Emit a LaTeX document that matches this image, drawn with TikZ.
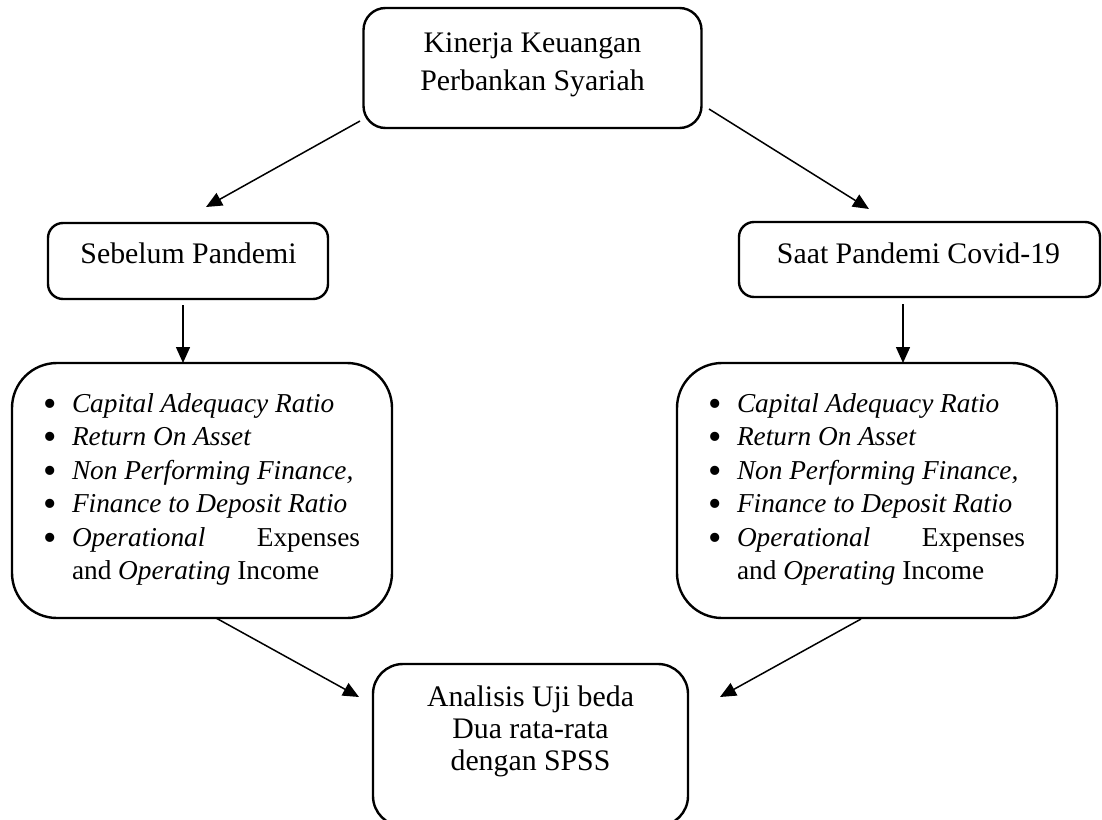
\documentclass[tikz,border=0pt]{standalone}
\usepackage{fontspec}
\setmainfont{Liberation Serif}
\usetikzlibrary{arrows.meta}
\newcommand\bigbul{\makebox[26pt][l]{\hspace*{-3pt}\smash{\raisebox{-4pt}{\scalebox{1.4}{\textbullet}}}}}
\newcommand\ratiolist{\parbox{314pt}{%
\bigbul\textit{Capital Adequacy Ratio}\\
\bigbul\textit{Return On Asset}\\
\bigbul\textit{Non Performing Finance,}\\
\bigbul\textit{Finance to Deposit Ratio}\\
\bigbul\makebox[288pt][s]{\textit{Operational}\hfill Expenses}\\
\hspace*{26pt}and \textit{Operating} Income}}
\tikzset{
  box/.style={draw, line width=2.4pt, inner sep=0pt},
  txt/.style={inner sep=0pt, align=center, font=\fontsize{29.8}{38}\selectfont},
  listtxt/.style={inner sep=0pt, anchor=north, font=\fontsize{27.3}{33.4}\selectfont},
  arr/.style={-{Triangle[length=16pt,width=14pt]}, line width=1.5pt},
}
\begin{document}
\begin{tikzpicture}[x=1pt,y=-1pt]
\useasboundingbox (0,0) rectangle (1102,819);
% boxes
\node[box, rounded corners=22pt, minimum width=338pt, minimum height=120pt] (top) at (532.5,68) {};
\node[txt, anchor=north] (topText) at (532.5,32.6) {Kinerja Keuangan\\Perbankan Syariah};
\node[box, rounded corners=15pt, minimum width=280pt, minimum height=76pt] (sebelum) at (188,261) {};
\node[txt, anchor=base] (sebelumText) at (188.5,263) {Sebelum Pandemi};
\node[box, rounded corners=15pt, minimum width=361pt, minimum height=75pt] (saat) at (919.5,259.5) {};
\node[txt, anchor=base] (saatText) at (918.5,263) {Saat Pandemi Covid-19};
\node[box, rounded corners=45pt, minimum width=380pt, minimum height=255pt] (listL) at (202,490.5) {};
\node[listtxt] (listLText) at (203,393.4) {\ratiolist};
\node[box, rounded corners=45pt, minimum width=380pt, minimum height=255pt] (listR) at (867,490.5) {};
\node[listtxt] (listRText) at (868,393.4) {\ratiolist};
\node[box, rounded corners=30pt, minimum width=315pt, minimum height=162pt] (analisis) at (530.5,745) {};
\node[txt, anchor=north, font=\fontsize{29.8}{32}\selectfont] (analisisText) at (530.5,685.6) {Analisis Uji beda\\Dua rata-rata\\dengan SPSS};
% connector ends
\coordinate (a1s) at (360,121); \coordinate (a1e) at (206,207);
\coordinate (a2s) at (709,109); \coordinate (a2e) at (869,209);
\coordinate (a3s) at (183,305); \coordinate (a3e) at (183,363);
\coordinate (a4s) at (903,304); \coordinate (a4e) at (903,363);
\coordinate (a5s) at (216,618); \coordinate (a5e) at (359,697);
\coordinate (a6s) at (861,619); \coordinate (a6e) at (720,697);
\draw[arr] (a1s) -- (a1e);
\draw[arr] (a2s) -- (a2e);
\draw[arr] (a3s) -- (a3e);
\draw[arr] (a4s) -- (a4e);
\draw[arr] (a5s) -- (a5e);
\draw[arr] (a6s) -- (a6e);
\end{tikzpicture}
\end{document}
